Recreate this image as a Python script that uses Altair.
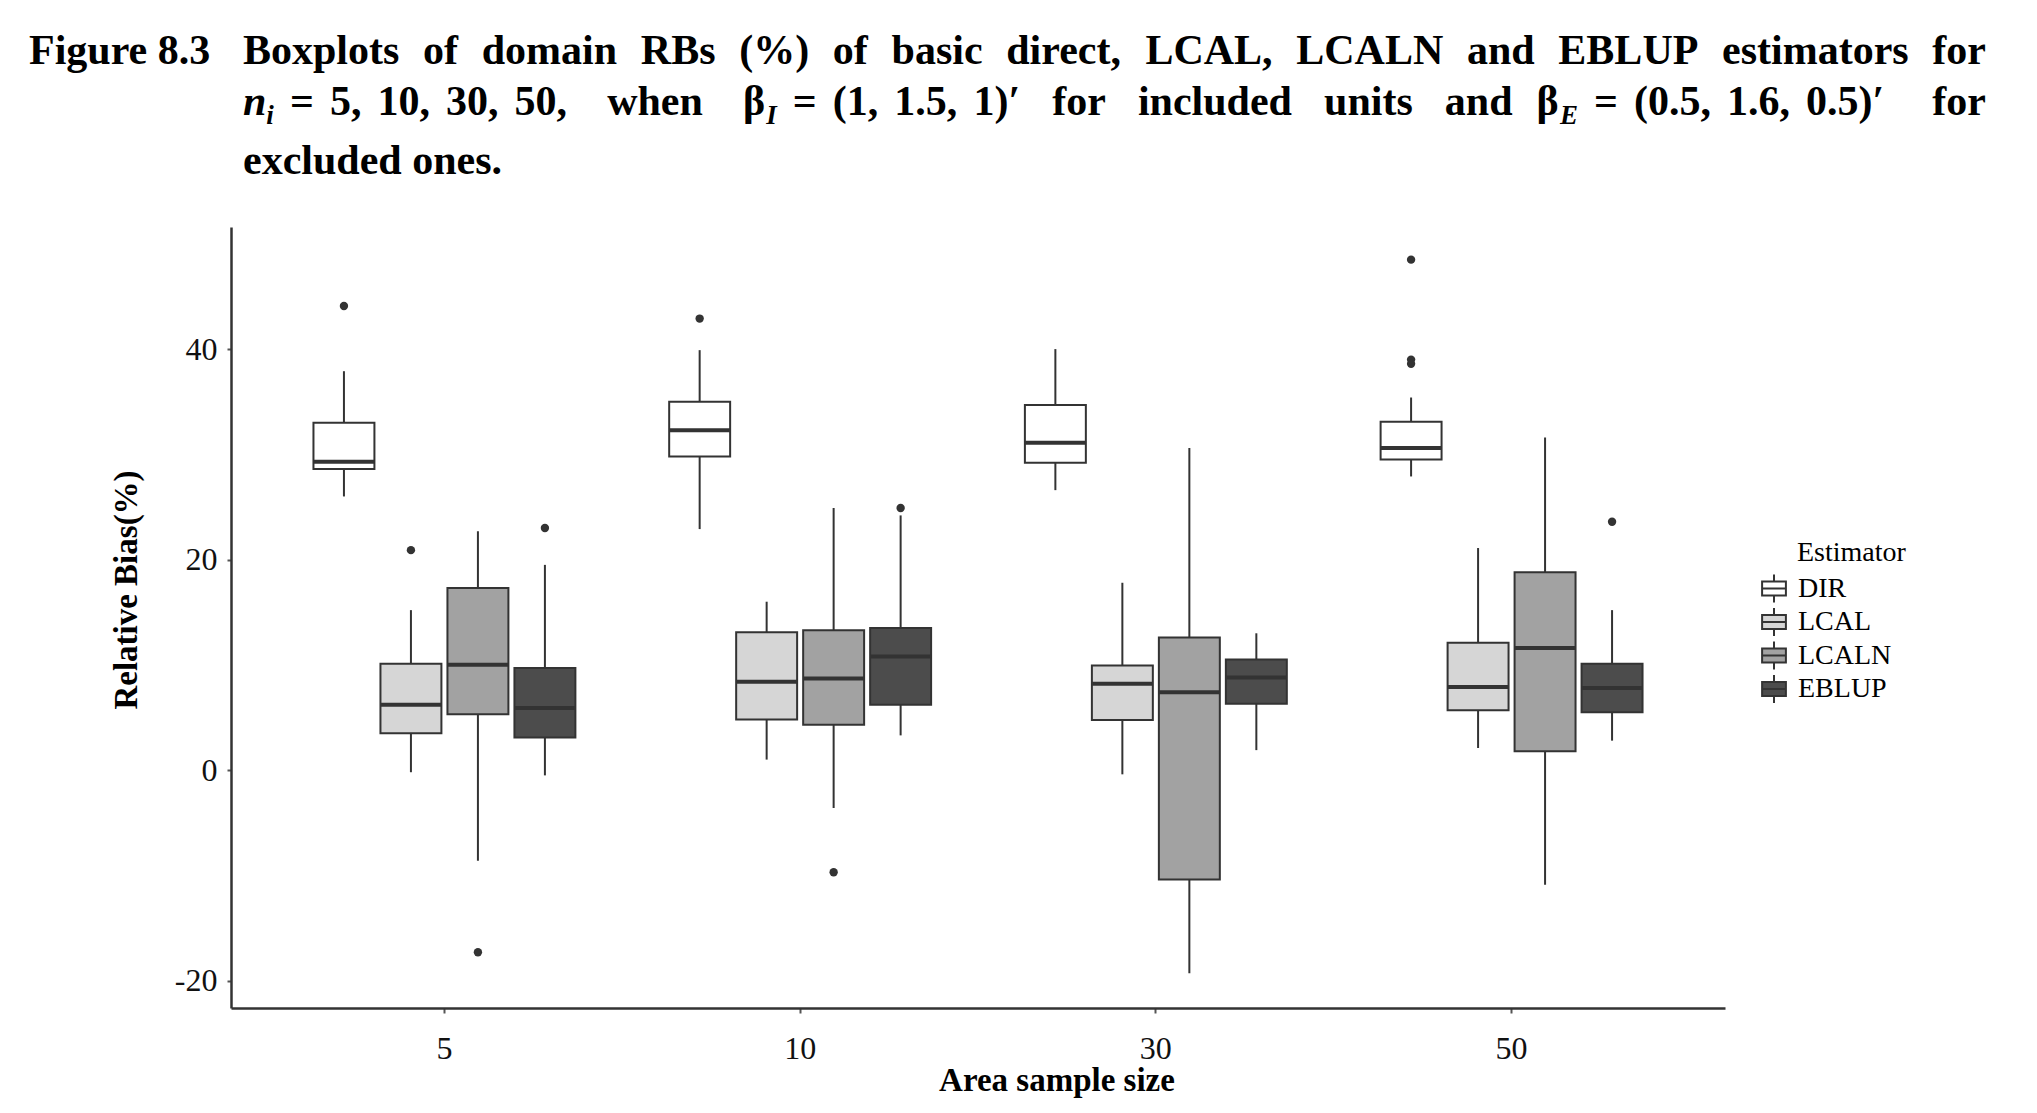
import altair as alt
import pandas as pd

# ---------------------------------------------------------------- data
sample_sizes = ["5", "10", "30", "50"]
estimators = ["DIR", "LCAL", "LCALN", "EBLUP"]
grey_fill = ["#FFFFFF", "#D6D6D6", "#A2A2A2", "#4C4C4C"]

# five-number summaries, one value per area sample size (5, 10, 30, 50)
whisker_low = {
    "DIR": [26.0, 22.9, 26.6, 27.9],
    "LCAL": [-0.2, 1.0, -0.4, 2.1],
    "LCALN": [-8.6, -3.6, -19.3, -10.9],
    "EBLUP": [-0.5, 3.3, 1.9, 2.8],
}
quart_low = {
    "DIR": [28.6, 29.8, 29.2, 29.5],
    "LCAL": [3.5, 4.8, 4.75, 5.7],
    "LCALN": [5.3, 4.3, -10.4, 1.8],
    "EBLUP": [3.1, 6.2, 6.3, 5.5],
}
median = {
    "DIR": [29.3, 32.3, 31.1, 30.6],
    "LCAL": [6.2, 8.4, 8.2, 7.9],
    "LCALN": [10.0, 8.7, 7.4, 11.6],
    "EBLUP": [5.9, 10.8, 8.8, 7.8],
}
quart_high = {
    "DIR": [33.0, 35.0, 34.7, 33.1],
    "LCAL": [10.1, 13.1, 9.95, 12.1],
    "LCALN": [17.3, 13.3, 12.6, 18.8],
    "EBLUP": [9.7, 13.5, 10.5, 10.1],
}
whisker_high = {
    "DIR": [37.9, 39.9, 40.0, 35.4],
    "LCAL": [15.2, 16.0, 17.8, 21.1],
    "LCALN": [22.7, 24.9, 30.6, 31.6],
    "EBLUP": [19.5, 24.2, 13.0, 15.2],
}

outlier_size = ["5", "5", "5", "5", "10", "10", "10", "50", "50", "50", "50"]
outlier_est = ["DIR", "LCAL", "LCALN", "EBLUP", "DIR", "LCALN", "EBLUP",
               "DIR", "DIR", "DIR", "EBLUP"]
outlier_val = [44.1, 20.9, -17.3, 23.0, 42.9, -9.7, 24.9, 48.5, 39.0, 38.6, 23.6]

y_ticks = [-20, 0, 20, 40]

rows = []
for est in estimators:
    for i, n in enumerate(sample_sizes):
        rows.append({
            "size": n, "estimator": est,
            "lo": whisker_low[est][i], "q1": quart_low[est][i],
            "med": median[est][i], "q3": quart_high[est][i],
            "hi": whisker_high[est][i],
        })
boxes_df = pd.DataFrame(rows)
outliers_df = pd.DataFrame({"size": outlier_size, "estimator": outlier_est,
                            "value": outlier_val})

# ---------------------------------------------------------------- layout
CANVAS_W, CANVAS_H = 2037, 1113
LEFT, TOP, RIGHT, BOTTOM = 231, 227, 1725, 1008
PLOT_W, PLOT_H = RIGHT - LEFT, BOTTOM - TOP
SERIF = "Liberation Serif"
INK = "#333333"

x_enc = alt.X("size:N", sort=sample_sizes,
              scale=alt.Scale(paddingInner=0, paddingOuter=0.1),
              axis=alt.Axis(title=None, labelAngle=0, labelFont=SERIF,
                            labelFontSize=32, labelColor="#111111",
                            labelPadding=20, tickSize=5, tickWidth=2,
                            tickColor="#555555", domainColor=INK,
                            domainWidth=2.5, grid=False))
xo_enc = alt.XOffset("estimator:N", sort=estimators,
                     scale=alt.Scale(paddingInner=0.09, paddingOuter=0.7))
y_scale = alt.Scale(domain=[-22.6, 51.6], nice=False, zero=False)
y_axis = alt.Axis(title=None, values=y_ticks, labelFont=SERIF,
                  labelFontSize=32, labelColor="#111111", labelPadding=10,
                  labelExpr="replace(datum.label, '\u2212', '-')",
                  tickSize=4, tickWidth=2, tickColor="#555555",
                  domainColor=INK, domainWidth=2.5, grid=False)

# custom glyph: a small boxplot (box, median bar and two whiskers)
BOX_GLYPH = ("M-0.85,-0.5H0.85V0.5H-0.85Z M-0.85,0H0.85 "
             "M0,-0.5V-1 M0,0.5V1")

base = alt.Chart(boxes_df)

whiskers = base.mark_rule(color=INK, strokeWidth=2).encode(
    x=x_enc, xOffset=xo_enc,
    y=alt.Y("lo:Q", scale=y_scale, axis=y_axis), y2="hi",
)

boxes = base.mark_bar(stroke=INK, strokeWidth=2, opacity=1).encode(
    x=x_enc, xOffset=xo_enc,
    y=alt.Y("q1:Q", scale=y_scale, axis=y_axis), y2="q3",
    fill=alt.Fill("estimator:N", sort=estimators,
                  scale=alt.Scale(domain=estimators, range=grey_fill),
                  legend=alt.Legend(title=None, orient="none",
                                    legendX=1759 - LEFT, legendY=573 - TOP,
                                    symbolType=BOX_GLYPH, symbolSize=784,
                                    symbolStrokeColor=INK,
                                    symbolStrokeWidth=2, symbolOpacity=1,
                                    labelFont=SERIF, labelFontSize=28,
                                    labelColor="#000000", labelOffset=9,
                                    clipHeight=31, rowPadding=2.5,
                                    padding=0)),
)

medians = base.mark_bar(stroke=INK, strokeWidth=4, fillOpacity=0).encode(
    x=x_enc, xOffset=xo_enc,
    y=alt.Y("med:Q", scale=y_scale, axis=y_axis), y2="med",
)

points = alt.Chart(outliers_df).mark_circle(color=INK, size=70,
                                            opacity=1).encode(
    x=x_enc, xOffset=xo_enc,
    y=alt.Y("value:Q", scale=y_scale, axis=y_axis),
)

# ---------------------------------------------------------------- text
def label(s, x, y, size, weight="normal", style="normal", align="left",
          baseline="alphabetic", angle=0):
    props = dict(text=s, font=SERIF, fontSize=size, fontWeight=weight,
                 fontStyle=style, align=align, baseline=baseline,
                 color="#000000")
    if angle:
        props["angle"] = angle
    return alt.Chart(alt.Data(values=[{}])).mark_text(**props).encode(
        x=alt.value(x - LEFT), y=alt.value(y - TOP))


# advance widths of the bold serif face (per 1000 em)
BOLD_W = {" ": 250, "(": 333, ")": 333, "%": 1000, ",": 250, ".": 250,
          "=": 570, "′": 278, "β": 556,
          "A": 722, "B": 667, "C": 722, "E": 667, "F": 611, "I": 389,
          "L": 667, "N": 722, "P": 611, "R": 722, "U": 722,
          "a": 500, "b": 556, "c": 444, "d": 556, "e": 444, "f": 333,
          "g": 500, "h": 556, "i": 278, "l": 278, "m": 833, "n": 556,
          "o": 500, "p": 556, "r": 444, "s": 389, "t": 333, "u": 556,
          "w": 722, "x": 500}


def text_w(s, size):
    return sum(BOLD_W.get(ch, 500) for ch in s) * size / 1000.0


T_SIZE = 42
SUB_SIZE = 27
SUB_DY = 9
LINE_X0, LINE_X1 = 243, 1986
BASE1, BASE2, BASE3 = 64, 115, 174

layers = [whiskers, boxes, medians, points]

layers.append(label("Figure 8.3", 29, BASE1, T_SIZE, weight="bold"))

# first caption line, justified across the text block
words1 = ["Boxplots", "of", "domain", "RBs", "(%)", "of", "basic", "direct,",
          "LCAL,", "LCALN", "and", "EBLUP", "estimators", "for"]
natural = sum(text_w(w, T_SIZE) for w in words1)
gap = (LINE_X1 - LINE_X0 - natural) / (len(words1) - 1)
xpos = LINE_X0
for w in words1:
    layers.append(label(w, xpos, BASE1, T_SIZE, weight="bold"))
    xpos += text_w(w, T_SIZE) + gap

# second caption line: tokens (main text, subscript) with gap weights
tokens2 = [("n", "i"), ("=", ""), ("5,", ""), ("10,", ""), ("30,", ""),
           ("50,", ""), ("when", ""), ("β", "I"), ("=", ""), ("(1,", ""),
           ("1.5,", ""), ("1)′", ""), ("for", ""), ("included", ""),
           ("units", ""), ("and", ""), ("β", "E"), ("=", ""), ("(0.5,", ""),
           ("1.6,", ""), ("0.5)′", ""), ("for", "")]
weights2 = [1, 1, 1, 1, 1, 2.5, 2.5, 1, 1, 1, 1, 2, 2, 2, 2, 1.5, 1, 1, 1, 1, 3]
SUB_W = {"i": 278, "I": 389, "E": 667}


def token_w(tok):
    main, sub = tok
    return text_w(main, T_SIZE) + SUB_W.get(sub, 0) * SUB_SIZE / 1000.0


natural2 = sum(token_w(t) for t in tokens2)
unit = (LINE_X1 - LINE_X0 - natural2) / sum(weights2)
xpos = LINE_X0
for k, (main, sub) in enumerate(tokens2):
    italic = main == "n"
    layers.append(label(main, xpos, BASE2, T_SIZE, weight="bold",
                        style="italic" if italic else "normal"))
    if sub:
        layers.append(label(sub, xpos + text_w(main, T_SIZE), BASE2 + SUB_DY,
                            SUB_SIZE, weight="bold", style="italic"))
    xpos += token_w((main, sub))
    if k < len(weights2):
        xpos += unit * weights2[k]

layers.append(label("excluded ones.", LINE_X0, BASE3, T_SIZE, weight="bold"))

# axis titles and legend heading
layers.append(label("Relative Bias(%)", 127, 590, 33, weight="bold",
                    align="center", baseline="middle", angle=270))
layers.append(label("Area sample size", 1057, 1081, 33, weight="bold",
                    align="center", baseline="middle"))
layers.append(label("Estimator", 1797, 553, 28, baseline="middle"))

chart = alt.layer(*layers).properties(
    width=PLOT_W, height=PLOT_H,
    autosize=alt.AutoSizeParams(type="none"),
    padding={"left": LEFT, "top": TOP, "right": CANVAS_W - RIGHT,
             "bottom": CANVAS_H - BOTTOM},
    background="#FFFFFF",
).configure_view(stroke=None)

chart.save("out.html", embed_options={"renderer": "svg", "actions": False})
